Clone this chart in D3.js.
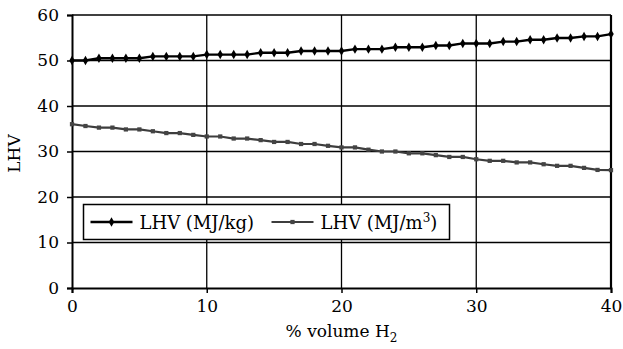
<!DOCTYPE html>
<html>
<head>
<meta charset="utf-8">
<script src="https://cdn.jsdelivr.net/npm/d3@7"></script>
<style>
  body { margin: 0; background: #fff; }
  text { font-family: "DejaVu Serif", serif; fill: #000; }
</style>
</head>
<body>
<div class="chart"></div>
<script>
// % volume H2, 0..40
var hydrogen = d3.range(0, 41);

// LHV (MJ/kg)
var lhvMass = [50.0, 50.0, 50.5, 50.5, 50.5, 50.5, 50.9, 50.9, 50.9, 50.9,
               51.3, 51.3, 51.3, 51.3, 51.7, 51.7, 51.7, 52.1, 52.1, 52.1,
               52.1, 52.5, 52.5, 52.5, 52.9, 52.9, 52.9, 53.3, 53.3, 53.75,
               53.75, 53.75, 54.15, 54.15, 54.55, 54.55, 54.95, 54.95, 55.3, 55.3,
               55.8];

// LHV (MJ/m3)
var lhvVol = [36.0, 35.6, 35.25, 35.25, 34.85, 34.85, 34.45, 34.05, 34.05, 33.65,
              33.3, 33.3, 32.85, 32.85, 32.5, 32.1, 32.1, 31.65, 31.65, 31.25,
              30.9, 30.9, 30.4, 30.0, 30.0, 29.6, 29.6, 29.2, 28.8, 28.8,
              28.3, 27.95, 27.95, 27.6, 27.6, 27.2, 26.85, 26.85, 26.4, 25.95,
              25.9];

var xTicks = [0, 10, 20, 30, 40];
var yTicks = [0, 10, 20, 30, 40, 50, 60];

var margin = {top: 15, right: 12, bottom: 61, left: 72};
var svgWidth = 623;
var svgHeight = 349;
var width = svgWidth - margin.left - margin.right;
var height = svgHeight - margin.top - margin.bottom;

var xScale = d3.scaleLinear().domain([0, 40]).range([0, width]);
var yScale = d3.scaleLinear().domain([0, 60]).range([height, 0]);

const svg = d3.select(".chart").append("svg")
    .attr("width", svgWidth)
    .attr("height", svgHeight)
    .append("g")
    .attr("transform", "translate(" + margin.left + "," + margin.top + ")");

// gridlines
svg.append("g")
    .selectAll("line")
    .data(yTicks.slice(1))
    .enter().append("line")
    .attr("x1", 0).attr("x2", width)
    .attr("y1", d => yScale(d)).attr("y2", d => yScale(d))
    .attr("stroke", "#000").attr("stroke-width", 1.3);

svg.append("g")
    .selectAll("line")
    .data(xTicks.slice(1, -1))
    .enter().append("line")
    .attr("y1", 0).attr("y2", height)
    .attr("x1", d => xScale(d)).attr("x2", d => xScale(d))
    .attr("stroke", "#000").attr("stroke-width", 1.3);

// right border
svg.append("line")
    .attr("x1", width).attr("x2", width)
    .attr("y1", 0).attr("y2", height)
    .attr("stroke", "#000").attr("stroke-width", 2.2);

// axes
var xAxis = svg.append("g")
    .attr("transform", "translate(0," + height + ")")
    .call(d3.axisBottom(xScale).tickValues(xTicks).tickSize(5).tickPadding(7));

var yAxis = svg.append("g")
    .call(d3.axisLeft(yScale).tickValues(yTicks).tickSize(5).tickPadding(8));

[xAxis, yAxis].forEach(function(a) {
  a.select(".domain").attr("stroke-width", 2);
  a.selectAll(".tick line").attr("stroke-width", 1.5);
  a.selectAll("text")
    .style("font-family", "DejaVu Serif")
    .style("font-size", "17px")
    .attr("fill", "#000");
});

// lines
var line = d3.line()
    .x((d, i) => xScale(hydrogen[i]))
    .y(d => yScale(d));

svg.append("path")
    .datum(lhvVol)
    .attr("fill", "none")
    .attr("stroke", "#3d3d3d")
    .attr("stroke-width", 2.2)
    .attr("d", line);

svg.selectAll(".sq")
    .data(lhvVol)
    .enter().append("path")
    .attr("class", "sq")
    .attr("transform", (d, i) => "translate(" + xScale(hydrogen[i]) + "," + yScale(d) + ")")
    .attr("d", d3.symbol(d3.symbolSquare, 18))
    .attr("fill", "#444");

svg.append("path")
    .datum(lhvMass)
    .attr("fill", "none")
    .attr("stroke", "#000")
    .attr("stroke-width", 2.4)
    .attr("d", line);

svg.selectAll(".dm")
    .data(lhvMass)
    .enter().append("path")
    .attr("class", "dm")
    .attr("transform", (d, i) => "translate(" + xScale(hydrogen[i]) + "," + yScale(d) + ")")
    .attr("d", d3.symbol(d3.symbolDiamond, 26))
    .attr("fill", "#000");

// legend
var legend = svg.append("g")
    .attr("transform", "translate(11.5,189.5)");

legend.append("rect")
    .attr("width", 366).attr("height", 35)
    .attr("fill", "#fff")
    .attr("stroke", "#000")
    .attr("stroke-width", 1.5);

legend.append("line")
    .attr("x1", 7).attr("x2", 49).attr("y1", 17.5).attr("y2", 17.5)
    .attr("stroke", "#000").attr("stroke-width", 2.4);
legend.append("path")
    .attr("transform", "translate(28,17.5)")
    .attr("d", d3.symbol(d3.symbolDiamond, 26))
    .attr("fill", "#000");
legend.append("text")
    .attr("x", 56).attr("y", 24.5)
    .style("font-size", "18px")
    .text("LHV (MJ/kg)");

legend.append("line")
    .attr("x1", 188).attr("x2", 230).attr("y1", 17.5).attr("y2", 17.5)
    .attr("stroke", "#3d3d3d").attr("stroke-width", 2.2);
legend.append("path")
    .attr("transform", "translate(209,17.5)")
    .attr("d", d3.symbol(d3.symbolSquare, 18))
    .attr("fill", "#444");
var t2 = legend.append("text")
    .attr("x", 237).attr("y", 24.5)
    .style("font-size", "18px");
t2.append("tspan").text("LHV (MJ/m");
t2.append("tspan").attr("dy", -7).style("font-size", "12px").text("3");
t2.append("tspan").attr("dy", 7).text(")");

// axis titles
svg.append("text")
    .attr("transform", "translate(" + (-52) + "," + (height / 2 + 2) + ") rotate(-90)")
    .attr("text-anchor", "middle")
    .style("font-size", "17px")
    .text("LHV");

var xt = svg.append("text")
    .attr("x", width / 2)
    .attr("y", height + 49)
    .attr("text-anchor", "middle")
    .style("font-size", "17px");
xt.append("tspan").text("% volume H");
xt.append("tspan").attr("dy", 5).style("font-size", "12px").text("2");
</script>
</body>
</html>
